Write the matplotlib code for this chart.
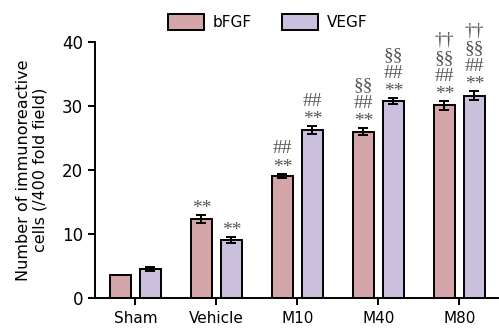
import numpy as np
import matplotlib
matplotlib.use("Agg")
import matplotlib.pyplot as plt

groups     = ["Sham", "Vehicle", "M10", "M40", "M80"]
bfgf       = [3.6, 12.4, 19.1, 26.0, 30.1]
bfgf_err   = [0.0, 0.6, 0.35, 0.5, 0.7]
vegf       = [4.6, 9.05, 26.3, 30.8, 31.6]
vegf_err   = [0.3, 0.45, 0.6, 0.45, 0.7]
bfgf_marks = [[], ["**"], ["**", "##"], ["**", "##", "§§"], ["**", "##", "§§", "††"]]
vegf_marks = [[], ["**"], ["**", "##"], ["**", "##", "§§"], ["**", "##", "§§", "††"]]

C_BFGF = "#d3a4a8"
C_VEGF = "#cac0de"
MARK_C = "#555555"

fig = plt.figure(figsize=(4.99, 3.29), dpi=100)
ax = fig.add_axes([0.19, 0.094, 0.807, 0.778])

x = np.arange(len(groups))
w = 0.26
off = 0.185

kw = dict(width=w, edgecolor="black", linewidth=1.4,
          error_kw=dict(elinewidth=1.4, capsize=3.5, capthick=1.4, ecolor="black"))
ax.bar(x - off, bfgf, yerr=bfgf_err, color=C_BFGF, label="bFGF", **kw)
ax.bar(x + off, vegf, yerr=vegf_err, color=C_VEGF, label="VEGF", **kw)

# significance marks stacked above error caps
for xs, vals, errs, marks in [(x - off, bfgf, bfgf_err, bfgf_marks),
                              (x + off, vegf, vegf_err, vegf_marks)]:
    for xi, v, e, mk in zip(xs, vals, errs, marks):
        for k, m in enumerate(mk):
            ax.annotate(m, xy=(xi, v + e), xytext=(0, 1.5 + 13 * k),
                        textcoords="offset points", ha="center", va="baseline",
                        fontsize=14, family="Liberation Serif", color=MARK_C)

ax.set_xlim(-0.5, 4.47)
ax.set_ylim(0, 40)
ax.set_yticks([0, 10, 20, 30, 40])
ax.set_xticks(x)
ax.set_xticklabels(groups, fontsize=11)
ax.tick_params(axis="y", labelsize=12, width=1.4, length=5, direction="out")
ax.tick_params(axis="x", width=1.4, length=5, direction="out", pad=4)
ax.set_ylabel("Number of immunoreactive\ncells (/400 fold field)", fontsize=11.5,
              labelpad=10)

for s in ["top", "right"]:
    ax.spines[s].set_visible(False)
for s in ["left", "bottom"]:
    ax.spines[s].set_linewidth(1.4)

fig.legend(loc="upper left", bbox_to_anchor=(0.31, 1.0), ncol=2, frameon=False,
           fontsize=11, handlelength=2.3, handleheight=1.3, columnspacing=2.0,
           handletextpad=0.6)

fig.savefig("out.png", dpi=100)
